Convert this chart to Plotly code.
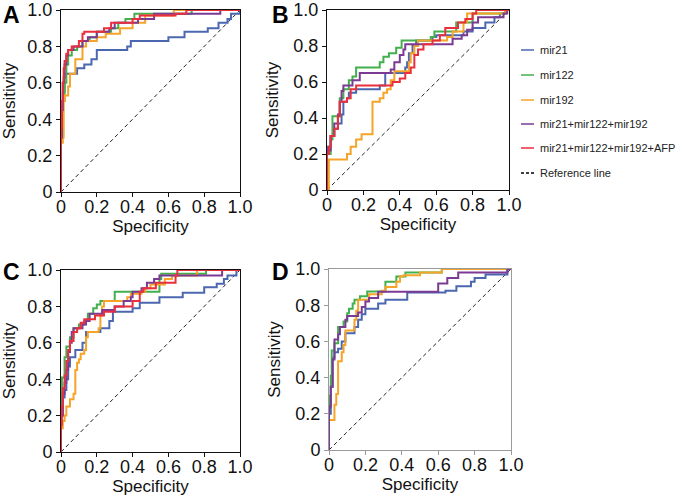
import plotly.graph_objects as go

# --- Données (courbes ROC) ---
# Chaque point (x, y) : à la spécificité x la sensibilité saute à y (tracé en escalier 'hv')

A_MIR21_X = [0, 0, 0.01, 0.02, 0.09, 0.13, 0.17, 0.2, 0.37, 0.39, 0.6, 0.69, 0.82, 0.88, 0.93, 0.95, 1.0, 1.0]
A_MIR21_Y = [0, 0.33, 0.55, 0.65, 0.68, 0.70, 0.73, 0.78, 0.80, 0.83, 0.85, 0.88, 0.90, 0.93, 0.95, 0.98, 1.0, 1.0]
A_MIR122_X = [0, 0, 0.01, 0.02, 0.03, 0.04, 0.06, 0.09, 0.12, 0.16, 0.2, 0.28, 0.32, 0.36, 0.41, 0.73, 1.0]
A_MIR122_Y = [0, 0.3, 0.5, 0.6, 0.7, 0.75, 0.78, 0.8, 0.83, 0.85, 0.88, 0.9, 0.93, 0.95, 0.98, 1.0, 1.0]
A_MIR192_X = [0, 0, 0.01, 0.015, 0.02, 0.04, 0.05, 0.08, 0.12, 0.14, 0.2, 0.25, 0.33, 0.4, 0.47, 0.63, 1.0]
A_MIR192_Y = [0, 0.27, 0.3, 0.5, 0.53, 0.58, 0.65, 0.73, 0.80, 0.83, 0.85, 0.87, 0.9, 0.93, 0.97, 1.0, 1.0]
A_COMBO_X = [0, 0, 0.005, 0.01, 0.015, 0.02, 0.03, 0.04, 0.07, 0.12, 0.15, 0.2, 0.27, 0.30, 0.43, 0.52, 0.89, 1.0]
A_COMBO_Y = [0, 0.3, 0.45, 0.6, 0.63, 0.7, 0.75, 0.78, 0.80, 0.83, 0.85, 0.88, 0.90, 0.93, 0.95, 0.98, 1.0, 1.0]
A_AFP_X = [0, 0, 0.005, 0.01, 0.015, 0.02, 0.03, 0.04, 0.06, 0.1, 0.12, 0.13, 0.24, 0.28, 0.40, 0.44, 0.64, 0.70, 1.0]
A_AFP_Y = [0, 0.35, 0.5, 0.6, 0.68, 0.72, 0.76, 0.78, 0.80, 0.83, 0.87, 0.88, 0.90, 0.93, 0.95, 0.97, 0.98, 1.0, 1.0]

B_MIR21_X = [0, 0, 0.02, 0.04, 0.06, 0.08, 0.09, 0.11, 0.12, 0.16, 0.29, 0.32, 0.43, 0.44, 0.45, 0.47, 0.49, 0.58, 0.60,
             0.75, 0.80, 0.87, 0.92, 0.95, 0.98, 1.0]
B_MIR21_Y = [0, 0.24, 0.3, 0.34, 0.37, 0.42, 0.49, 0.51, 0.54, 0.56, 0.58, 0.65, 0.68, 0.71, 0.76, 0.80, 0.83, 0.85,
             0.86, 0.88, 0.90, 0.93, 0.96, 0.98, 1.0, 1.0]
B_MIR122_X = [0, 0, 0.02, 0.03, 0.07, 0.09, 0.12, 0.14, 0.16, 0.29, 0.31, 0.34, 0.38, 0.41, 0.57, 0.59, 0.71, 0.80,
              0.98, 1.0]
B_MIR122_Y = [0, 0.2, 0.28, 0.41, 0.51, 0.56, 0.61, 0.63, 0.68, 0.71, 0.74, 0.76, 0.79, 0.83, 0.85, 0.88, 0.93, 0.98,
              1.0, 1.0]
B_MIR192_X = [0, 0.01, 0.11, 0.13, 0.16, 0.19, 0.25, 0.29, 0.31, 0.33, 0.35, 0.37, 0.45, 0.46, 0.48, 0.50, 0.66, 0.69,
              0.75, 0.77, 0.98, 1.0]
B_MIR192_Y = [0, 0.17, 0.20, 0.24, 0.28, 0.31, 0.49, 0.51, 0.54, 0.56, 0.61, 0.66, 0.71, 0.76, 0.80, 0.83, 0.85, 0.88,
              0.93, 0.98, 1.0, 1.0]
B_COMBO_X = [0, 0, 0.02, 0.04, 0.06, 0.07, 0.08, 0.09, 0.14, 0.18, 0.35, 0.37, 0.40, 0.42, 0.43, 0.69, 0.74, 0.77,
             0.80, 0.83, 0.97, 0.99, 1.0]
B_COMBO_Y = [0, 0.22, 0.3, 0.37, 0.42, 0.49, 0.55, 0.58, 0.61, 0.65, 0.67, 0.71, 0.75, 0.78, 0.81, 0.84, 0.86, 0.89,
             0.93, 0.96, 0.98, 1.0, 1.0]
B_AFP_X = [0, 0, 0.01, 0.02, 0.04, 0.06, 0.07, 0.11, 0.13, 0.16, 0.36, 0.40, 0.43, 0.46, 0.48, 0.50, 0.53, 0.58, 0.62,
           0.65, 0.72, 0.76, 0.80, 0.82, 1.0]
B_AFP_Y = [0, 0.2, 0.24, 0.3, 0.34, 0.41, 0.49, 0.51, 0.56, 0.58, 0.60, 0.62, 0.65, 0.68, 0.75, 0.78, 0.81, 0.83, 0.86,
           0.90, 0.93, 0.95, 0.98, 1.0, 1.0]

C_MIR21_X = [0, 0, 0.01, 0.02, 0.03, 0.04, 0.05, 0.08, 0.12, 0.14, 0.22, 0.27, 0.29, 0.40, 0.44, 0.55, 0.68, 0.80,
             0.87, 0.91, 0.93, 0.98, 1.0]
C_MIR21_Y = [0, 0.2, 0.3, 0.34, 0.4, 0.47, 0.52, 0.56, 0.6, 0.66, 0.68, 0.72, 0.77, 0.79, 0.82, 0.85, 0.875, 0.905,
             0.925, 0.95, 0.97, 1.0, 1.0]
C_MIR122_X = [0, 0, 0.005, 0.02, 0.03, 0.05, 0.07, 0.10, 0.13, 0.15, 0.18, 0.20, 0.22, 0.30, 0.55, 0.56, 0.81, 1.0]
C_MIR122_Y = [0, 0.3, 0.41, 0.52, 0.58, 0.63, 0.68, 0.70, 0.72, 0.76, 0.79, 0.81, 0.83, 0.88, 0.95, 0.98, 1.0, 1.0]
C_MIR192_X = [0, 0, 0.01, 0.02, 0.03, 0.05, 0.07, 0.08, 0.09, 0.10, 0.11, 0.13, 0.14, 0.15, 0.21, 0.22, 0.23, 0.24,
              0.37, 0.39, 0.45, 0.47, 0.50, 0.58, 0.62, 0.76, 1.0]
C_MIR192_Y = [0, 0.13, 0.17, 0.2, 0.25, 0.29, 0.32, 0.45, 0.49, 0.51, 0.54, 0.56, 0.63, 0.66, 0.68, 0.75, 0.80, 0.83,
              0.85, 0.87, 0.88, 0.90, 0.92, 0.95, 0.97, 1.0, 1.0]
C_COMBO_X = [0, 0, 0.01, 0.02, 0.03, 0.04, 0.05, 0.06, 0.07, 0.12, 0.14, 0.16, 0.23, 0.30, 0.35, 0.39, 0.40, 0.45,
             0.48, 0.52, 0.55, 0.90, 1.0]
C_COMBO_Y = [0, 0.2, 0.32, 0.38, 0.45, 0.55, 0.6, 0.66, 0.68, 0.70, 0.72, 0.76, 0.78, 0.80, 0.83, 0.85, 0.88, 0.90,
             0.93, 0.95, 0.97, 1.0, 1.0]
C_AFP_X = [0, 0, 0.005, 0.01, 0.02, 0.03, 0.04, 0.05, 0.07, 0.09, 0.11, 0.13, 0.19, 0.24, 0.30, 0.40, 0.44, 0.46, 0.53,
           0.64, 0.65, 1.0]
C_AFP_Y = [0, 0.15, 0.25, 0.35, 0.42, 0.5, 0.56, 0.61, 0.66, 0.68, 0.71, 0.73, 0.75, 0.77, 0.80, 0.83, 0.88, 0.90,
           0.93, 0.97, 1.0, 1.0]

D_MIR21_X = [0, 0, 0.01, 0.02, 0.03, 0.05, 0.07, 0.09, 0.14, 0.16, 0.18, 0.20, 0.27, 0.31, 0.43, 0.64, 0.70, 0.78,
             0.80, 0.86, 0.98, 1.0]
D_MIR21_Y = [0, 0.2, 0.35, 0.51, 0.54, 0.56, 0.60, 0.645, 0.68, 0.72, 0.75, 0.78, 0.81, 0.83, 0.87, 0.88, 0.905, 0.93,
             0.95, 0.97, 1.0, 1.0]
D_MIR122_X = [0, 0, 0.01, 0.015, 0.03, 0.05, 0.08, 0.1, 0.11, 0.13, 0.14, 0.17, 0.21, 0.31, 0.37, 0.42, 0.62, 1.0]
D_MIR122_Y = [0, 0.3, 0.41, 0.55, 0.59, 0.68, 0.71, 0.755, 0.78, 0.81, 0.83, 0.85, 0.876, 0.93, 0.958, 0.98, 1.0, 1.0]
D_MIR192_X = [0, 0, 0.03, 0.04, 0.05, 0.07, 0.08, 0.09, 0.14, 0.15, 0.16, 0.22, 0.29, 0.31, 0.37, 0.39, 0.41, 0.50,
              0.62, 1.0]
D_MIR192_Y = [0, 0.166, 0.25, 0.31, 0.49, 0.54, 0.58, 0.66, 0.72, 0.77, 0.83, 0.86, 0.88, 0.90, 0.93, 0.96, 0.965,
              0.98, 1.0, 1.0]
D_COMBO_X = [0, 0, 0.01, 0.02, 0.03, 0.05, 0.06, 0.09, 0.10, 0.16, 0.18, 0.20, 0.22, 0.27, 0.60, 0.65, 0.71, 0.98, 1.0]
D_COMBO_Y = [0, 0.24, 0.35, 0.5, 0.61, 0.64, 0.68, 0.72, 0.74, 0.76, 0.79, 0.82, 0.84, 0.875, 0.92, 0.95, 0.98, 1.0,
             1.0]

REF_X = [0, 1]
REF_Y = [0, 1]

SERIES_NAMES = ["mir21", "mir122", "mir192", "mir21+mir122+mir192", "mir21+mir122+mir192+AFP", "Reference line"]
SERIES_COLORS = ["#4a67b0", "#42b04c", "#f5a428", "#7b3b93", "#e92f3d", "#000000"]

PANEL_LETTERS = ["A", "B", "C", "D"]
TICK_VALS = [0, 0.2, 0.4, 0.6, 0.8, 1.0]
TICK_TEXT = ["0", "0.2", "0.4", "0.6", "0.8", "1.0"]

W, H = 692, 501
FONT = "Liberation Sans, Arial, sans-serif"


def px_x(x: float) -> float:
    return x / W


def px_y(y: float) -> float:
    return 1 - y / H


# positions des zones de tracé, en pixels (gauche, droite, haut, bas)
panel_boxes = [(61, 240, 10, 192), (327, 509, 10, 190), (61, 240, 270, 452), (329, 511, 269, 450)]

panels = [
    [(A_MIR21_X, A_MIR21_Y), (A_MIR122_X, A_MIR122_Y), (A_MIR192_X, A_MIR192_Y), (A_COMBO_X, A_COMBO_Y),
     (A_AFP_X, A_AFP_Y)],
    [(B_MIR21_X, B_MIR21_Y), (B_MIR122_X, B_MIR122_Y), (B_MIR192_X, B_MIR192_Y), (B_COMBO_X, B_COMBO_Y),
     (B_AFP_X, B_AFP_Y)],
    [(C_MIR21_X, C_MIR21_Y), (C_MIR122_X, C_MIR122_Y), (C_MIR192_X, C_MIR192_Y), (C_COMBO_X, C_COMBO_Y),
     (C_AFP_X, C_AFP_Y)],
    [(D_MIR21_X, D_MIR21_Y), (D_MIR122_X, D_MIR122_Y), (D_MIR192_X, D_MIR192_Y), (D_COMBO_X, D_COMBO_Y)],
]

fig = go.Figure()
layout = {}
annotations = []
shapes = []

for p, series in enumerate(panels):
    suffix = "" if p == 0 else str(p + 1)
    xa, ya = "x" + suffix, "y" + suffix
    left, right, top, bottom = panel_boxes[p]
    axis_color = "#9a9a9a" if p == 3 else "#111111"

    # ligne de référence en premier (dessous)
    fig.add_trace(go.Scatter(x=REF_X, y=REF_Y, mode="lines", xaxis=xa, yaxis=ya, showlegend=False,
                             line=dict(color="#222222", width=1, dash="4px,3px"), name=SERIES_NAMES[5]))
    for i, (sx, sy) in enumerate(series):
        fig.add_trace(go.Scatter(x=sx, y=sy, mode="lines", line_shape="hv", xaxis=xa, yaxis=ya,
                                 showlegend=False, name=SERIES_NAMES[i],
                                 line=dict(color=SERIES_COLORS[i], width=2)))

    common = dict(range=[0, 1], tickvals=TICK_VALS, ticktext=TICK_TEXT, showgrid=False, zeroline=False,
                  automargin=False, showline=True, linecolor=axis_color, linewidth=1, mirror=True,
                  ticks="outside", ticklen=4, tickcolor=axis_color, ticklabeloverflow="allow",
                  tickfont=dict(family=FONT, size=18, color="#111111"))
    layout["xaxis" + suffix] = dict(common, domain=[px_x(left), px_x(right)], anchor=ya,
                                    ticklabelstandoff=-6,
                                    title=dict(text="Specificity", standoff=0,
                                               font=dict(family=FONT, size=17, color="#111111")))
    layout["yaxis" + suffix] = dict(common, domain=[px_y(bottom), px_y(top)], anchor=xa,
                                    title=dict(text="Sensitivity", standoff=10,
                                               font=dict(family=FONT, size=17, color="#111111")))

# lettres des panneaux
letter_pos = [(11, 15), (280, 15), (11, 272), (280, 272)]
for letter, (lx, ly) in zip(PANEL_LETTERS, letter_pos):
    annotations.append(dict(text="<b>" + letter + "</b>", x=px_x(lx), y=px_y(ly), xref="paper", yref="paper",
                            showarrow=False, xanchor="center", yanchor="middle",
                            font=dict(family=FONT, size=23, color="#000000")))

# légende manuelle (traits courts comme dans la figure)
legend_y = [50, 75, 100, 124, 148, 173]
for i, name in enumerate(SERIES_NAMES):
    yy = px_y(legend_y[i])
    shapes.append(dict(type="line", xref="paper", yref="paper", x0=px_x(521), x1=px_x(534), y0=yy, y1=yy,
                       line=dict(color=SERIES_COLORS[i], width=1.5, dash="3px,2px" if i == 5 else "solid")))
    annotations.append(dict(text=name, x=px_x(538), y=yy, xref="paper", yref="paper", showarrow=False,
                            xanchor="left", yanchor="middle", font=dict(family=FONT, size=11, color="#222222")))

fig.update_layout(
    width=W, height=H,
    margin=dict(l=0, r=0, t=0, b=0),
    paper_bgcolor="white", plot_bgcolor="white",
    showlegend=False,
    annotations=annotations,
    shapes=shapes,
    **layout
)

# marge du body à zéro pour que la figure occupe exactement la fenêtre
fig.write_html("out.html", config={"displayModeBar": False},
               post_script="document.body.style.margin='0';")
